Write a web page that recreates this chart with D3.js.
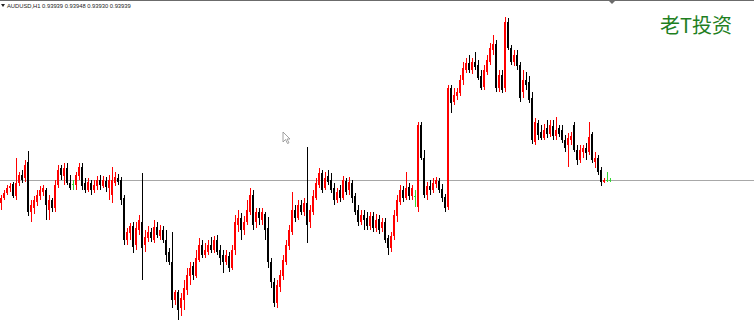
<!DOCTYPE html>
<html>
<head>
<meta charset="utf-8">
<script src="https://cdn.jsdelivr.net/npm/d3@7"></script>
<style>
  body { margin: 0; background: #fff; }
  svg { display: block; }
</style>
</head>
<body>
<div id="chart"></div>
<script>
// AUDUSD H1 candles (prices)
var opens = [
  0.93825,0.93850,0.93875,0.93900,0.93920,0.93860,0.93925,0.93965,0.93950,0.94030,
  0.93780,0.93800,0.93830,0.93860,0.93880,0.93890,0.93790,0.93840,0.93800,0.93915,
  0.94000,0.93960,0.94000,0.93925,0.93920,0.93915,0.93960,0.94005,0.93925,0.93890,
  0.93925,0.93890,0.93910,0.93940,0.93910,0.93935,0.93900,0.93865,0.93925,0.93950,
  0.93940,0.93850,0.93640,0.93675,0.93710,0.93615,0.93690,0.93730,0.93615,0.93650,
  0.93680,0.93640,0.93705,0.93660,0.93690,0.93640,0.93580,0.93530,0.93340,0.93380,
  0.93300,0.93340,0.93390,0.93460,0.93510,0.93460,0.93540,0.93615,0.93565,0.93580,
  0.93615,0.93590,0.93640,0.93590,0.93565,0.93530,0.93560,0.93500,0.93590,0.93715,
  0.93750,0.93690,0.93730,0.93780,0.93865,0.93730,0.93780,0.93740,0.93770,0.93700,
  0.93530,0.93430,0.93325,0.93405,0.93460,0.93530,0.93610,0.93680,0.93790,0.93750,
  0.93815,0.93780,0.93825,0.93730,0.93780,0.93850,0.93915,0.93975,0.93900,0.93960,
  0.93940,0.93900,0.93840,0.93890,0.93850,0.93935,0.93890,0.93925,0.93860,0.93790,
  0.93730,0.93765,0.93750,0.93710,0.93760,0.93700,0.93745,0.93700,0.93730,0.93650,
  0.93600,0.93660,0.93760,0.93830,0.93890,0.93850,0.93905,0.93860,0.93860,0.93805,
  0.94215,0.94050,0.93865,0.93910,0.93890,0.93920,0.93935,0.93895,0.93855,0.93805,
  0.94400,0.94330,0.94360,0.94375,0.94440,0.94490,0.94525,0.94490,0.94530,0.94515,
  0.94460,0.94405,0.94480,0.94530,0.94590,0.94620,0.94400,0.94465,0.94400,0.94730,
  0.94600,0.94530,0.94565,0.94515,0.94380,0.94440,0.94430,0.94350,0.94130,0.94225,
  0.94180,0.94150,0.94200,0.94170,0.94210,0.94160,0.94200,0.94190,0.94140,0.94115,
  0.94140,0.94215,0.94090,0.94040,0.94080,0.94100,0.94080,0.94170,0.94030,0.94050,
  0.93990,0.93930,0.93940,0.93939
]
var highs = [
  0.93865,0.93890,0.93915,0.93925,0.93930,0.94050,0.93980,0.93990,0.94040,0.94085,
  0.93840,0.93860,0.93890,0.93910,0.93915,0.93900,0.93865,0.93850,0.93940,0.94015,
  0.94015,0.94025,0.94025,0.93965,0.93940,0.93980,0.94025,0.94025,0.93950,0.93950,
  0.93940,0.93940,0.93960,0.93965,0.93960,0.93955,0.93965,0.94005,0.93980,0.93970,
  0.93955,0.93865,0.93700,0.93725,0.93730,0.93730,0.93765,0.93975,0.93690,0.93710,
  0.93700,0.93740,0.93730,0.93715,0.93710,0.93690,0.93600,0.93680,0.93390,0.93390,
  0.93375,0.93440,0.93500,0.93530,0.93530,0.93590,0.93650,0.93640,0.93625,0.93640,
  0.93655,0.93660,0.93665,0.93615,0.93590,0.93590,0.93580,0.93615,0.93765,0.93790,
  0.93775,0.93760,0.93840,0.93900,0.93890,0.93800,0.93800,0.93800,0.93780,0.93755,
  0.93550,0.93450,0.93440,0.93490,0.93565,0.93640,0.93715,0.93880,0.93815,0.93840,
  0.93840,0.93850,0.94105,0.93815,0.93890,0.93950,0.94000,0.93990,0.93980,0.93990,
  0.93975,0.93925,0.93900,0.93915,0.93960,0.93950,0.93955,0.93940,0.93875,0.93815,
  0.93790,0.93790,0.93780,0.93780,0.93780,0.93770,0.93765,0.93750,0.93750,0.93665,
  0.93680,0.93790,0.93865,0.93915,0.93910,0.93980,0.93925,0.93915,0.93890,0.94230,
  0.94230,0.94090,0.93930,0.93940,0.93950,0.93955,0.93950,0.93920,0.93870,0.94415,
  0.94415,0.94400,0.94400,0.94465,0.94530,0.94550,0.94565,0.94550,0.94580,0.94540,
  0.94490,0.94515,0.94565,0.94625,0.94665,0.94640,0.94490,0.94490,0.94755,0.94750,
  0.94615,0.94590,0.94590,0.94530,0.94490,0.94480,0.94460,0.94380,0.94250,0.94240,
  0.94215,0.94220,0.94240,0.94240,0.94240,0.94255,0.94215,0.94215,0.94165,0.94175,
  0.94180,0.94230,0.94115,0.94115,0.94115,0.94125,0.94230,0.94180,0.94080,0.94065,
  0.94005,0.93950,0.93980,0.93948
]
var lows = [
  0.93790,0.93840,0.93865,0.93880,0.93850,0.93840,0.93910,0.93925,0.93930,0.93760,
  0.93730,0.93770,0.93810,0.93840,0.93860,0.93740,0.93740,0.93780,0.93780,0.93900,
  0.93940,0.93915,0.93915,0.93890,0.93890,0.93890,0.93940,0.93890,0.93875,0.93880,
  0.93865,0.93875,0.93890,0.93890,0.93900,0.93880,0.93840,0.93825,0.93910,0.93915,
  0.93815,0.93615,0.93615,0.93640,0.93575,0.93590,0.93665,0.93440,0.93580,0.93630,
  0.93630,0.93625,0.93650,0.93640,0.93625,0.93530,0.93515,0.93300,0.93315,0.93240,
  0.93260,0.93290,0.93365,0.93415,0.93440,0.93450,0.93530,0.93550,0.93550,0.93565,
  0.93575,0.93575,0.93565,0.93515,0.93475,0.93515,0.93480,0.93490,0.93565,0.93680,
  0.93640,0.93665,0.93715,0.93765,0.93690,0.93700,0.93715,0.93715,0.93640,0.93500,
  0.93400,0.93305,0.93300,0.93380,0.93440,0.93515,0.93590,0.93665,0.93730,0.93740,
  0.93765,0.93760,0.93625,0.93700,0.93765,0.93840,0.93900,0.93875,0.93890,0.93915,
  0.93875,0.93815,0.93825,0.93830,0.93840,0.93865,0.93865,0.93825,0.93765,0.93710,
  0.93715,0.93690,0.93690,0.93690,0.93680,0.93680,0.93670,0.93680,0.93625,0.93565,
  0.93580,0.93640,0.93730,0.93815,0.93830,0.93840,0.93840,0.93840,0.93805,0.93780,
  0.94040,0.93850,0.93840,0.93865,0.93875,0.93900,0.93875,0.93830,0.93780,0.93790,
  0.94275,0.94315,0.94340,0.94360,0.94415,0.94475,0.94475,0.94470,0.94490,0.94440,
  0.94390,0.94390,0.94465,0.94515,0.94565,0.94380,0.94380,0.94375,0.94380,0.94590,
  0.94515,0.94510,0.94490,0.94330,0.94350,0.94390,0.94325,0.94120,0.94115,0.94140,
  0.94140,0.94140,0.94150,0.94155,0.94140,0.94140,0.94155,0.94125,0.94080,0.94005,
  0.94115,0.94080,0.94015,0.94025,0.94050,0.94040,0.94065,0.94025,0.94000,0.93965,
  0.93910,0.93925,0.93930,0.93930
]
var closes = [
  0.93850,0.93875,0.93900,0.93910,0.93860,0.93925,0.93965,0.93940,0.94015,0.93780,
  0.93815,0.93840,0.93865,0.93890,0.93900,0.93815,0.93840,0.93800,0.93915,0.93990,
  0.93965,0.94000,0.93925,0.93900,0.93920,0.93965,0.94005,0.93910,0.93890,0.93930,
  0.93890,0.93915,0.93940,0.93915,0.93940,0.93905,0.93940,0.93940,0.93955,0.93930,
  0.93840,0.93640,0.93680,0.93710,0.93605,0.93700,0.93740,0.93600,0.93655,0.93680,
  0.93650,0.93705,0.93665,0.93690,0.93640,0.93565,0.93530,0.93340,0.93380,0.93290,
  0.93350,0.93400,0.93465,0.93500,0.93465,0.93550,0.93615,0.93565,0.93590,0.93615,
  0.93590,0.93640,0.93580,0.93550,0.93530,0.93565,0.93500,0.93590,0.93730,0.93750,
  0.93690,0.93730,0.93790,0.93865,0.93715,0.93780,0.93750,0.93780,0.93690,0.93530,
  0.93430,0.93325,0.93415,0.93465,0.93540,0.93615,0.93690,0.93790,0.93750,0.93815,
  0.93780,0.93825,0.93715,0.93790,0.93860,0.93925,0.93975,0.93890,0.93950,0.93930,
  0.93890,0.93840,0.93880,0.93850,0.93940,0.93880,0.93930,0.93850,0.93780,0.93730,
  0.93765,0.93740,0.93710,0.93760,0.93700,0.93740,0.93690,0.93730,0.93640,0.93600,
  0.93660,0.93765,0.93840,0.93890,0.93850,0.93900,0.93860,0.93900,0.93860,0.94215,
  0.94050,0.93865,0.93910,0.93890,0.93925,0.93940,0.93890,0.93850,0.93800,0.94400,
  0.94325,0.94365,0.94380,0.94440,0.94500,0.94525,0.94490,0.94530,0.94505,0.94450,
  0.94400,0.94490,0.94540,0.94600,0.94620,0.94400,0.94465,0.94390,0.94730,0.94600,
  0.94530,0.94565,0.94510,0.94350,0.94440,0.94415,0.94340,0.94140,0.94230,0.94165,
  0.94150,0.94190,0.94170,0.94215,0.94160,0.94190,0.94170,0.94140,0.94100,0.94150,
  0.94160,0.94090,0.94040,0.94090,0.94100,0.94075,0.94155,0.94040,0.94050,0.93980,
  0.93930,0.93940,0.93940,0.93939
]
var symbol = "AUDUSD,H1"
var bid = 0.93939
var watermark = "老T投资"

var width = 754
    height = 331

var candles = opens.map(function(o, i) {
    return {i: i, o: o, h: highs[i], l: lows[i], c: closes[i]}
})

var svg = d3.select("#chart")
    .append("svg")
        .attr("width", width)
        .attr("height", height)
        .style("background", "#fff")

// price scale: y pixels for the visible window
var y = d3.scaleLinear()
    .domain([0.93185, 0.94840])
    .range([height, 0])

// one band per bar, 3px step
var x = d3.scaleBand()
    .domain(d3.range(candles.length))
    .range([0, candles.length * 3])

function candleColor(d) {
    if (d.c > d.o) return "#ff0000"
    if (d.c < d.o) return "#000000"
    return "#33d633"
}

// window top border
svg.append("rect")
    .attr("x", 0).attr("y", 0)
    .attr("width", width).attr("height", 1)
    .attr("fill", "#6b6b6b")
svg.append("path")
    .attr("d", "M609,1 L615,1 L612,4 Z")
    .attr("fill", "#6b6b6b")

// bid line
svg.append("rect")
    .attr("x", 0)
    .attr("y", Math.round(y(bid)))
    .attr("width", width)
    .attr("height", 1)
    .attr("fill", "#a8a8a8")

var g = svg.append("g").attr("shape-rendering", "crispEdges")

// wicks
g.selectAll("rect.wick")
    .data(candles)
    .enter()
    .append("rect")
        .attr("class", "wick")
        .attr("x", function(d) { return x(d.i) + 1 })
        .attr("y", function(d) { return Math.round(y(d.h)) })
        .attr("width", 1)
        .attr("height", function(d) { return Math.max(1, Math.round(y(d.l)) - Math.round(y(d.h))) })
        .attr("fill", candleColor)

// bodies
g.selectAll("rect.body")
    .data(candles)
    .enter()
    .append("rect")
        .attr("class", "body")
        .attr("x", function(d) { return x(d.i) })
        .attr("y", function(d) { return Math.round(y(Math.max(d.o, d.c))) })
        .attr("width", 2)
        .attr("height", function(d) { return Math.max(1, Math.round(y(Math.min(d.o, d.c))) - Math.round(y(Math.max(d.o, d.c)))) })
        .attr("fill", candleColor)

// header: symbol + OHLC of the last bar
var last = candles[candles.length - 1]
svg.append("path")
    .attr("d", "M1,4 L5,4 L3,7 Z")
    .attr("fill", "#222")
svg.append("text")
    .attr("x", 7)
    .attr("y", 8)
    .attr("font-family", "Liberation Sans, Arial, sans-serif")
    .attr("font-size", "5.8px")
    .attr("fill", "#222")
    .text(symbol + "  " + [last.o, last.h, last.l, last.c].map(function(v) { return v.toFixed(5) }).join(" "))

// watermark
svg.append("text")
    .attr("x", 660)
    .attr("y", 33)
    .attr("font-family", "Noto Sans CJK SC, sans-serif")
    .attr("font-size", "20px")
    .attr("fill", "#1f7f1f")
    .text(watermark)

// mouse pointer left in the screenshot
svg.append("path")
    .attr("d", "M283,132 L283,142 L285.5,139.5 L287.5,143.5 L289,142.8 L287,139 L290,139 Z")
    .attr("fill", "#fff")
    .attr("stroke", "#8a8a8a")
    .attr("stroke-width", 0.8)
</script>
</body>
</html>
